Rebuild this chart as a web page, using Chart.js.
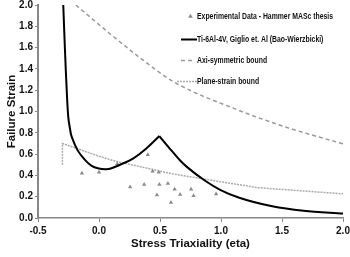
<!DOCTYPE html>
<html><head><meta charset="utf-8">
<script src="https://cdn.jsdelivr.net/npm/chart.js@4/dist/chart.umd.min.js"></script>
<style>html,body{margin:0;padding:0;background:#fff;}#wrap{width:350px;height:257px;}</style>
</head><body><div id="wrap"><canvas id="c" width="350" height="257"></canvas></div>
<script>
// ---- data ----
const expEta    = [-0.14, 0.0, 0.15, 0.255, 0.37, 0.40, 0.44, 0.475, 0.49, 0.495, 0.565, 0.62, 0.59, 0.665, 0.755, 0.775, 0.96];
const expStrain = [0.42, 0.43, 0.51, 0.29, 0.315, 0.595, 0.44, 0.215, 0.43, 0.315, 0.325, 0.27, 0.145, 0.22, 0.27, 0.21, 0.225];

const baoEtaA    = [-0.293, -0.279, -0.265, -0.252, -0.238, -0.224, -0.175, -0.115, -0.06, 0.0, 0.05, 0.09, 0.172, 0.282, 0.39, 0.495];
const baoStrainA = [2.0, 1.58, 1.21, 0.95, 0.84, 0.764, 0.635, 0.546, 0.49, 0.465, 0.458, 0.462, 0.50, 0.56, 0.655, 0.77];
const baoEtaB    = [0.495, 0.515, 0.597, 0.665, 0.72, 0.87, 0.993, 1.15, 1.42, 1.677, 2.0];
const baoStrainB = [0.77, 0.74, 0.63, 0.54, 0.48, 0.35, 0.265, 0.19, 0.11, 0.068, 0.042];

const axiEta    = [-0.19, 0.09, 0.364, 0.61, 1.17, 1.336, 1.568, 2.0];
const axiStrain = [2.0, 1.73, 1.48, 1.28, 1.0, 0.93, 0.84, 0.696];

const psEta    = [-0.3, -0.3, 0.0, 0.13, 0.6, 1.0, 1.3, 2.0];
const psStrain = [0.50, 0.70, 0.58, 0.535, 0.415, 0.34, 0.285, 0.227];

const xTicks = [-0.5, 0.0, 0.5, 1.0, 1.5, 2.0];
const yTicks = [0.0, 0.2, 0.4, 0.6, 0.8, 1.0, 1.2, 1.4, 1.6, 1.8, 2.0];

const labels = ['Experimental Data - Hammer MASc thesis', 'Ti-6Al-4V, Giglio et. Al (Bao-Wierzbicki)', 'Axi-symmetric bound', 'Plane-strain bound'];

const pts = (xs, ys) => xs.map((x, i) => ({x: x, y: ys[i]}));
const FONT = '"Liberation Sans", Arial, sans-serif';

const legendPlugin = {
  id: 'customLegend',
  afterDraw(chart) {
    const ctx = chart.ctx;
    const rows = [16, 39, 60, 81];
    const textX = 197;
    ctx.save();
    const size = 8.5;
    ctx.font = 'bold ' + size + 'px ' + FONT;
    const sx = 136 / ctx.measureText(labels[0]).width;
    const ds = chart.data.datasets.filter(d => d.inLegend);
    ds.forEach((d, i) => {
      const y = rows[i];
      if (d.kind === 'scatter') {
        ctx.fillStyle = d.backgroundColor;
        ctx.beginPath();
        ctx.moveTo(190.5, y - 2.2); ctx.lineTo(192.8, y + 1.8); ctx.lineTo(188.2, y + 1.8); ctx.closePath();
        ctx.fill();
      } else {
        ctx.strokeStyle = d.borderColor;
        ctx.lineWidth = d.borderWidth;
        ctx.setLineDash(d.borderDash || []);
        ctx.beginPath();
        ctx.moveTo(d.kind === 'ps' ? 177 : 181, y + 0.5); ctx.lineTo(d.kind === 'axi' ? 193 : 197, y + 0.5);
        ctx.stroke();
        ctx.setLineDash([]);
      }
      ctx.save();
      ctx.translate(textX, y + 0.5);
      ctx.scale(sx, 1);
      ctx.fillStyle = '#111';
      ctx.font = 'bold ' + size + 'px ' + FONT;
      ctx.textBaseline = 'middle';
      ctx.textAlign = 'left';
      ctx.fillText(d.label, 0, 0);
      ctx.restore();
    });
    ctx.restore();
  }
};

new Chart(document.getElementById('c'), {
  type: 'scatter',
  data: {
    datasets: [
      {label: labels[0], inLegend: true, kind: 'scatter', data: pts(expEta, expStrain), showLine: false,
       pointStyle: 'triangle', pointRadius: 2.5, backgroundColor: '#8a8a8a', borderColor: '#8a8a8a', borderWidth: 0, order: 1},
      {label: labels[1], inLegend: true, kind: 'bao', data: pts(baoEtaA, baoStrainA), showLine: true, pointRadius: 0,
       borderColor: '#000', backgroundColor: '#000', borderWidth: 2, tension: 0.4, order: 0},
      {label: labels[1], inLegend: false, kind: 'bao', data: pts(baoEtaB, baoStrainB), showLine: true, pointRadius: 0,
       borderColor: '#000', backgroundColor: '#000', borderWidth: 2, cubicInterpolationMode: 'monotone', order: 0},
      {label: labels[2], inLegend: true, kind: 'axi', data: pts(axiEta, axiStrain), showLine: true, pointRadius: 0,
       borderColor: '#9a9a9a', backgroundColor: '#9a9a9a', borderWidth: 1.5, borderDash: [4, 3], cubicInterpolationMode: 'monotone', order: 2},
      {label: labels[3], inLegend: true, kind: 'ps', data: pts(psEta, psStrain), showLine: true, pointRadius: 0,
       borderColor: '#aaaaaa', backgroundColor: '#aaaaaa', borderWidth: 1.5, borderDash: [2, 1], tension: 0, order: 3}
    ]
  },
  options: {
    responsive: false,
    animation: false,
    clip: true,
    layout: {padding: {left: 0, right: 7, top: 5, bottom: 0}},
    plugins: {legend: {display: false}, tooltip: {enabled: false}},
    scales: {
      x: {
        type: 'linear', min: -0.5, max: 2.0,
        afterBuildTicks: s => { s.ticks = xTicks.map(v => ({value: v})); },
        afterFit: s => { s.height = 39; s.paddingLeft = 0; s.paddingRight = 0; },
        grid: {drawOnChartArea: false, drawTicks: true, tickLength: 4, color: '#888'},
        border: {color: '#888', width: 1.5},
        ticks: {color: '#111', padding: 3, maxRotation: 0, font: {family: FONT, size: 10, weight: 'bold'}, callback: v => v.toFixed(1)},
        title: {display: true, text: 'Stress Triaxiality (eta)', color: '#111', padding: {top: 0, bottom: 6}, font: {family: FONT, size: 11.5, weight: 'bold'}}
      },
      y: {
        type: 'linear', min: 0, max: 2.0,
        afterBuildTicks: s => { s.ticks = yTicks.map(v => ({value: v})); },
        afterFit: s => { s.width = 38; s.paddingTop = 0; s.paddingBottom = 0; },
        grid: {drawOnChartArea: false, drawTicks: true, tickLength: 3, color: '#888'},
        border: {color: '#888', width: 2},
        ticks: {color: '#111', padding: 2, font: {family: FONT, size: 10, weight: 'bold'}, callback: v => v.toFixed(1)},
        title: {display: true, text: 'Failure Strain', color: '#111', padding: {top: 5, bottom: 0}, font: {family: FONT, size: 11.5, weight: 'bold'}}
      }
    }
  },
  plugins: [legendPlugin]
});
</script>
</body></html>
